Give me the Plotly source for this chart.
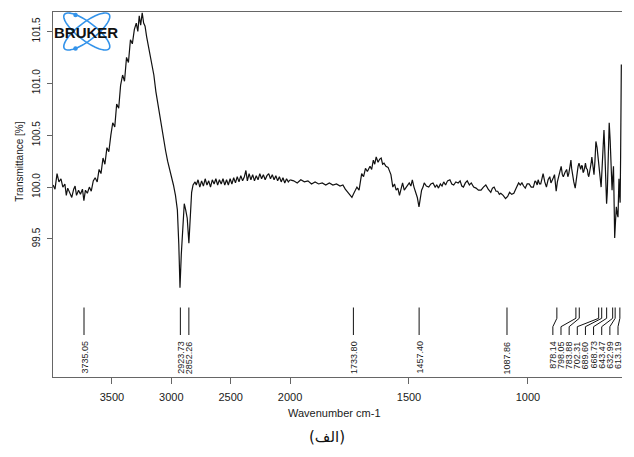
import numpy as np
import plotly.graph_objects as go

# ---------------- data ----------------
wavenumber = [
    3995, 3979, 3962, 3946, 3929, 3913, 3896, 3884, 3872, 3855, 3838, 3822, 3810, 3798, 3781, 3765,
    3748, 3736, 3723, 3707, 3690, 3674, 3657, 3641, 3624, 3608, 3592, 3575, 3559, 3542, 3526, 3509,
    3493, 3476, 3460, 3443, 3427, 3410, 3394, 3377, 3361, 3344, 3328, 3311, 3295, 3282, 3270, 3258,
    3245, 3233, 3221, 3208, 3196, 3180, 3163, 3147, 3130, 3114, 3097, 3081, 3064, 3048, 3031, 3015,
    2998, 2982, 2965, 2949, 2937, 2927, 2916, 2903, 2891, 2879, 2866, 2852, 2842, 2829, 2817, 2800,
    2790, 2775, 2760, 2745, 2730, 2715, 2700, 2685, 2670, 2655, 2640, 2625, 2610, 2595, 2580, 2565,
    2550, 2535, 2520, 2505, 2490, 2475, 2460, 2445, 2430, 2415, 2400, 2385, 2372, 2360, 2345, 2330,
    2315, 2300, 2285, 2270, 2255, 2240, 2225, 2210, 2195, 2180, 2165, 2150, 2135, 2120, 2105, 2090,
    2075, 2060, 2045, 2030, 2015, 2000,
    1985, 1970, 1955, 1940, 1925, 1910, 1895, 1880, 1865, 1850, 1835, 1820, 1805, 1790, 1778, 1768,
    1758, 1748, 1740, 1734, 1727, 1719, 1710, 1699, 1691, 1683, 1675, 1664, 1657, 1650, 1644, 1638,
    1630, 1623, 1617, 1611, 1605, 1597, 1588, 1582, 1576, 1568, 1561, 1554, 1547, 1540, 1533, 1527,
    1520, 1513, 1506, 1499, 1492, 1486, 1479, 1472, 1465, 1458, 1452, 1447, 1441, 1436, 1427, 1417,
    1408, 1399, 1390, 1383, 1376, 1368, 1361, 1354, 1346, 1338, 1328, 1320, 1312, 1303, 1293, 1285,
    1278, 1271, 1263, 1255, 1246, 1238, 1228, 1218, 1208, 1197, 1187, 1177, 1167, 1156, 1149, 1142,
    1134, 1127, 1120, 1114, 1104, 1094, 1085, 1077, 1068, 1059, 1049, 1039, 1032, 1025, 1018, 1011,
    1003, 995, 986, 977, 970, 966, 961, 957, 951, 946, 941, 936, 929, 922, 915, 908,
    903, 898, 893, 888, 881, 876, 871, 865, 860, 855, 851, 844, 837, 832, 828, 823,
    819, 816, 813, 807, 801, 797, 793, 789, 785, 781, 778, 774, 771, 768, 765, 761,
    758, 754, 750, 747, 744, 740, 737, 734, 731, 727, 722, 718, 714, 709, 703, 697,
    692, 688, 684, 680, 677, 673, 669, 666, 662, 658, 654, 650, 646, 643, 640, 637,
    635, 632, 628, 624, 621, 619, 617, 615, 612, 610, 607,
]
transmittance = [
    100.02, 99.98, 100.13, 100.05, 100.08, 100.00, 100.03, 99.92, 99.99, 99.95, 99.90, 99.98, 100.01, 99.92, 99.97, 99.93,
    99.98, 99.87, 99.97, 99.94, 100.00, 99.96, 100.06, 100.09, 100.05, 100.17, 100.13, 100.28, 100.22, 100.38, 100.34, 100.50,
    100.62, 100.58, 100.80, 100.76, 100.98, 101.08, 101.02, 101.25, 101.20, 101.42, 101.38, 101.52, 101.58, 101.50, 101.65, 101.56,
    101.68, 101.58, 101.55, 101.45, 101.38, 101.30, 101.18, 101.08, 100.92, 100.80, 100.67, 100.55, 100.45, 100.35, 100.25, 100.18,
    100.10, 100.02, 99.92, 99.78, 99.45, 99.03, 99.35, 99.65, 99.84, 99.78, 99.70, 99.46, 99.75, 99.95, 100.02, 100.05,
    100.02, 100.07, 100.00, 100.06, 100.01, 100.08, 100.02, 100.06, 100.00, 100.07, 100.03, 100.08, 100.02, 100.07, 100.03, 100.08,
    100.02, 100.07, 100.02, 100.08, 100.03, 100.09, 100.04, 100.10, 100.05, 100.11, 100.06, 100.10, 100.16, 100.06, 100.13, 100.07,
    100.12, 100.06, 100.11, 100.07, 100.13, 100.08, 100.12, 100.07, 100.11, 100.13, 100.08, 100.12, 100.07, 100.11, 100.06, 100.10,
    100.05, 100.09, 100.04, 100.08, 100.05, 100.07,
    100.06, 100.04, 100.07, 100.05, 100.06, 100.03, 100.05, 100.03, 100.04, 100.02, 100.04, 100.02, 100.03, 100.01, 100.02, 99.98,
    99.95, 99.92, 99.90, 99.93, 99.96, 100.00, 99.97, 100.13, 100.10, 100.18, 100.15, 100.20, 100.17, 100.26, 100.22, 100.29,
    100.24, 100.27, 100.28, 100.22, 100.23, 100.20, 100.19, 100.16, 100.12, 100.00, 100.03, 99.97, 99.99, 99.92, 100.00, 100.04,
    99.97, 99.99, 100.02, 100.04, 100.01, 100.07, 100.00, 99.94, 99.90, 99.81, 99.88, 99.97, 100.00, 100.04, 100.01, 100.00,
    100.03, 100.04, 100.00, 100.02, 99.99, 100.03, 100.01, 100.05, 100.02, 100.06, 100.07, 100.03, 100.02, 100.05, 100.04, 100.06,
    100.01, 100.00, 100.04, 100.06, 100.02, 100.04, 100.00, 99.99, 99.97, 99.97, 100.00, 100.02, 99.98, 99.95, 99.99, 100.00,
    99.96, 99.96, 99.93, 99.94, 99.92, 99.89, 99.91, 99.95, 99.93, 99.94, 99.99, 100.04, 100.02, 100.04, 100.01, 99.99,
    100.03, 100.03, 100.00, 100.00, 100.06, 100.05, 100.02, 100.07, 100.03, 100.03, 100.08, 100.13, 100.05, 100.00, 100.07, 100.10,
    100.04, 100.06, 100.09, 100.12, 99.96, 100.05, 100.09, 100.15, 100.20, 100.12, 100.10, 100.14, 100.17, 100.10, 100.13, 100.20,
    100.26, 100.18, 100.12, 100.05, 99.99, 100.08, 100.15, 100.20, 100.23, 100.19, 100.17, 100.21, 100.20, 100.14, 100.15, 100.19,
    100.23, 100.18, 100.17, 100.12, 100.10, 100.15, 100.18, 100.23, 100.29, 100.22, 100.12, 100.25, 100.44, 100.38, 100.26, 100.10,
    100.00, 100.18, 100.40, 100.55, 100.38, 100.05, 99.84, 99.95, 100.30, 100.62, 100.45, 100.15, 99.97, 100.10, 100.20, 99.80,
    99.51, 99.65, 99.81, 99.74, 99.71, 99.90, 100.08, 99.95, 99.85, 100.30, 101.18,
]
peak_positions = [3735.05, 2923.73, 2852.26, 1733.80, 1457.40, 1087.86, 878.14, 798.05,
                  783.88, 702.31, 689.60, 668.73, 643.47, 632.99, 613.19]
x_ticks_high = [3500, 3000, 2500, 2000]
x_ticks_low = [1500, 1000]
y_ticks = [99.5, 100.0, 100.5, 101.0, 101.5]
y_tick_text = ["99.5", "100.0", "100.5", "101.0", "101.5"]

# ---------------- figure ----------------
W, H = 634, 457
ML, MR, MT, MB = 53, 0, 12, 80
PW, PH = W - ML - MR, H - MT - MB
BREAK = 2000
SPLIT = 0.4167

def px2paper(px, py):
    return (px - ML) / PW, (H - MB - py) / PH

wn = np.array(wavenumber)
tr = np.array(transmittance)
hi = wn >= BREAK
lo = wn <= BREAK

FONT = "Liberation Sans, Arial, Helvetica, sans-serif"
AXC = "#666666"
TXC = "#1a1a1a"

fig = go.Figure()
fig.add_trace(go.Scatter(x=wn[hi], y=tr[hi], xaxis="x", yaxis="y", mode="lines",
                         line=dict(color="#111111", width=1.2), showlegend=False, hoverinfo="skip"))
fig.add_trace(go.Scatter(x=wn[lo], y=tr[lo], xaxis="x2", yaxis="y", mode="lines",
                         line=dict(color="#111111", width=1.2), showlegend=False, hoverinfo="skip"))

common_x = dict(showline=True, linecolor=AXC, linewidth=1, mirror=True, ticks="outside",
                ticklen=6, tickcolor=AXC, showgrid=False, zeroline=False, anchor="y",
                tickfont=dict(family=FONT, size=11, color=TXC), ticklabelstandoff=4)

shapes = []
annotations = []

# peak markers
y_top = px2paper(0, 307.5)[1]
y_knee1 = px2paper(0, 318.3)[1]
y_knee2 = px2paper(0, 326.7)[1]
y_bot = px2paper(0, 335)[1]
y_text = px2paper(0, 339)[1]
cluster = [p for p in peak_positions if p < 900]
slots = np.linspace(895, 621, len(cluster))
lc = dict(color="#111111", width=1)
for p in peak_positions:
    xr = "x" if p >= BREAK else "x2"
    if p in cluster:
        s = slots[cluster.index(p)]
        path = f"M {p},{y_top} L {p},{y_knee1} L {s},{y_knee2} L {s},{y_bot}"
        shapes.append(dict(type="path", xref=xr, yref="paper", path=path, line=lc))
        lx = s
    else:
        shapes.append(dict(type="line", xref=xr, yref="paper", x0=p, x1=p, y0=y_top, y1=y_bot, line=lc))
        lx = p
    annotations.append(dict(x=lx, y=y_text, xref=xr, yref="paper", text=f"{p:.2f}", textangle=-90,
                            showarrow=False, xanchor="center", yanchor="top",
                            font=dict(family=FONT, size=9, color=TXC)))

# axis titles and caption
ax, ay = px2paper(340, 413)
annotations.append(dict(x=ax, y=ay, xref="paper", yref="paper", text="Wavenumber cm-1", showarrow=False,
                        font=dict(family=FONT, size=11, color=TXC), xanchor="center", yanchor="middle"))
ax, ay = px2paper(18, 162)
annotations.append(dict(x=ax, y=ay, xref="paper", yref="paper", text="Transmittance [%]", showarrow=False,
                        textangle=-90, font=dict(family=FONT, size=10, color=TXC),
                        xanchor="center", yanchor="middle"))
ax, ay = px2paper(333, 437)
annotations.append(dict(x=ax, y=ay, xref="paper", yref="paper", text="(الف)", showarrow=False,
                        font=dict(family="DejaVu Sans, Noto Sans, sans-serif", size=15, color="#111111"),
                        xanchor="center", yanchor="middle"))

# Bruker logo (decoration)
BLUE = "#3393ea"
cx, cy, a, b = 87.5, 31.5, 28.5, 9.0
t = np.linspace(0, 2 * np.pi, 73)
for ang in (np.deg2rad(36.7), -np.deg2rad(36.7)):
    ex = cx + a * np.cos(t) * np.cos(ang) - b * np.sin(t) * np.sin(ang)
    ey = cy + a * np.cos(t) * np.sin(ang) + b * np.sin(t) * np.cos(ang)
    pts = [px2paper(u, v) for u, v in zip(ex, ey)]
    path = "M " + " L ".join(f"{u:.5f},{v:.5f}" for u, v in pts) + " Z"
    shapes.append(dict(type="path", xref="paper", yref="paper", path=path,
                       line=dict(color=BLUE, width=1.6)))
for (dx, dy) in [(76, 15), (76, 48.5)]:
    x0, y0 = px2paper(dx - 2.3, dy + 2.3)
    x1, y1 = px2paper(dx + 2.3, dy - 2.3)
    shapes.append(dict(type="circle", xref="paper", yref="paper", x0=x0, y0=y0, x1=x1, y1=y1,
                       fillcolor=BLUE, line=dict(color=BLUE, width=0)))
ax, ay = px2paper(86.5, 32)
annotations.append(dict(x=ax, y=ay, xref="paper", yref="paper", text="<b>BRUKER</b>", showarrow=False,
                        font=dict(family=FONT, size=15, color="#111111"), xanchor="center", yanchor="middle"))

fig.update_layout(
    width=W, height=H,
    margin=dict(l=ML, r=MR, t=MT, b=MB, pad=0),
    paper_bgcolor="white", plot_bgcolor="white",
    showlegend=False,
    xaxis=dict(domain=[0, SPLIT], range=[3996, BREAK], tickvals=x_ticks_high,
               ticktext=[str(v) for v in x_ticks_high], **common_x),
    xaxis2=dict(domain=[SPLIT, 1], range=[BREAK, 604.2], tickvals=x_ticks_low,
                ticktext=[str(v) for v in x_ticks_low], **common_x),
    yaxis=dict(domain=[0, 1], range=[98.170, 101.687], anchor="x", showline=True, linecolor=AXC,
               linewidth=1, ticks="outside", ticklen=5, tickcolor=AXC, tickvals=y_ticks,
               ticktext=y_tick_text, tickangle=-90, showgrid=False, zeroline=False,
               tickfont=dict(family=FONT, size=10, color=TXC), ticklabelstandoff=3),
    shapes=shapes,
    annotations=annotations,
)

fig.write_html("out.html")
